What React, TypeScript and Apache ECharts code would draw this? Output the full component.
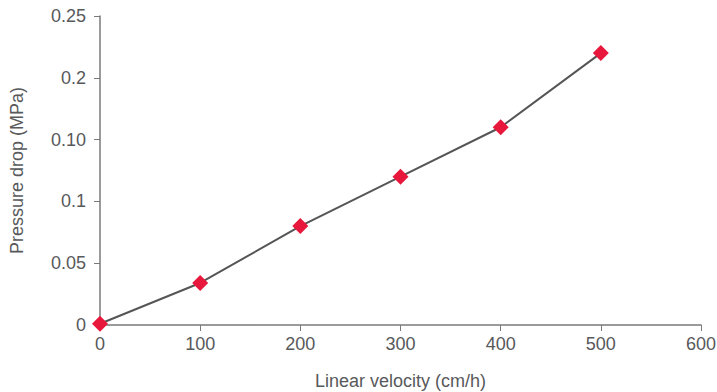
import React, { useEffect, useRef } from "react";
import * as echarts from "echarts";

const velocities = [0, 100, 200, 300, 400, 500];
const pressureDrop = [0.001, 0.034, 0.08, 0.12, 0.16, 0.22];
const yTickValues = [0, 0.05, 0.1, 0.15, 0.2, 0.25];
const yTickLabels = ["0", "0.05", "0.1", "0.10", "0.2", "0.25"];
const xAxisTitle = "Linear velocity (cm/h)";
const yAxisTitle = "Pressure drop (MPa)";

const FONT = "'Liberation Sans', Arial, sans-serif";
const TEXT = "#58595b";
const AXIS = "#7a7a7a";

export default function App() {
  const ref = useRef<HTMLDivElement>(null);
  useEffect(() => {
    if (!ref.current) return;
    document.body.style.margin = "0";
    const chart = echarts.init(ref.current, undefined, { renderer: "svg" });
    chart.setOption({
      animation: false,
      grid: {
        left: 100,
        right: 16,
        top: 16,
        bottom: 67,
        containLabel: false,
        outerBoundsMode: "none",
      },
      xAxis: {
        type: "value",
        min: 0,
        max: 600,
        interval: 100,
        name: xAxisTitle,
        nameLocation: "middle",
        nameGap: 47,
        nameTextStyle: { color: TEXT, fontSize: 18, fontFamily: FONT },
        axisLine: { show: true, lineStyle: { color: AXIS, width: 1.5 } },
        axisTick: { show: true, length: 6, lineStyle: { color: AXIS } },
        axisLabel: { color: TEXT, fontSize: 18, fontFamily: FONT, margin: 10 },
        splitLine: { show: false },
      },
      yAxis: {
        type: "value",
        min: 0,
        max: 0.25,
        interval: 0.05,
        name: yAxisTitle,
        nameLocation: "middle",
        nameGap: 74,
        nameRotate: 90,
        nameTextStyle: { color: TEXT, fontSize: 18, fontFamily: FONT },
        axisLine: { show: true, lineStyle: { color: AXIS, width: 1.5 } },
        axisTick: { show: true, length: 6, lineStyle: { color: AXIS } },
        axisLabel: {
          color: TEXT,
          fontSize: 18,
          fontFamily: FONT,
          margin: 14,
          formatter: (v: number) => {
            const i = yTickValues.findIndex((t) => Math.abs(t - v) < 1e-9);
            return i >= 0 ? yTickLabels[i] : String(v);
          },
        },
        splitLine: { show: false },
      },
      series: [
        {
          type: "line",
          data: velocities.map((x, i) => [x, pressureDrop[i]]),
          symbol: "diamond",
          symbolSize: 16,
          itemStyle: { color: "#e8173c" },
          lineStyle: { color: "#555555", width: 2 },
          z: 3,
        },
      ],
    });
    return () => chart.dispose();
  }, []);
  return <div ref={ref} style={{ width: 717, height: 392, background: "#fff" }} />;
}
